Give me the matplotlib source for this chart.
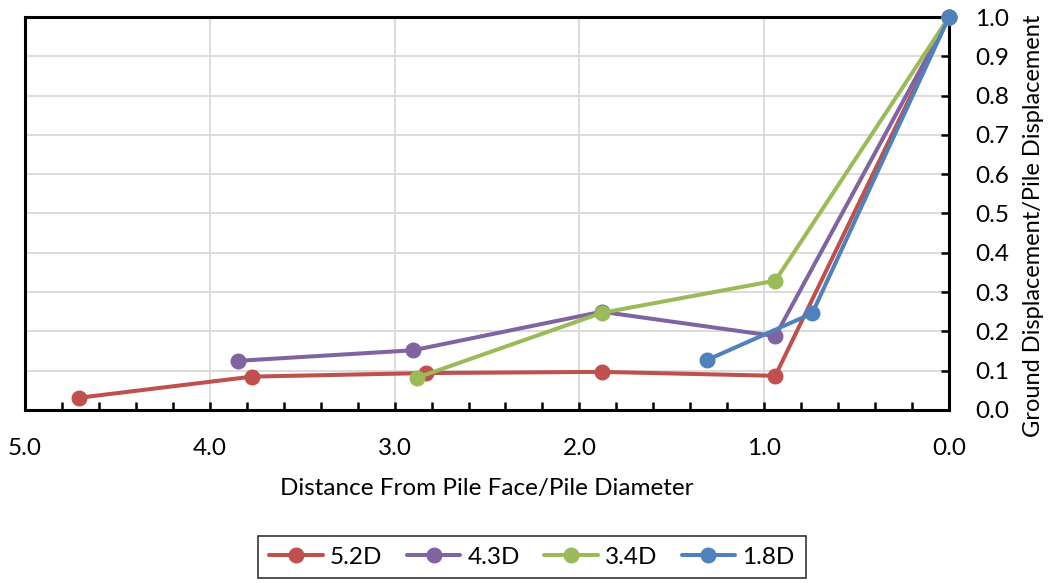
import matplotlib
matplotlib.use("Agg")
import matplotlib.pyplot as plt
from matplotlib.ticker import MultipleLocator

plt.rcParams['font.family'] = ['Lato', 'DejaVu Sans']

series_names = ["5.2D", "4.3D", "3.4D", "1.8D"]
colors = ["#C0504D", "#8064A2", "#9BBB59", "#4F81BD"]

x_52 = [4.71, 3.77, 2.83, 1.88, 0.94, 0.0]
y_52 = [0.031, 0.085, 0.094, 0.097, 0.087, 1.0]

x_43 = [3.85, 2.90, 1.88, 0.94, 0.0]
y_43 = [0.125, 0.152, 0.250, 0.188, 1.0]

x_34 = [2.88, 1.88, 0.94, 0.0]
y_34 = [0.082, 0.247, 0.329, 1.0]

x_18 = [1.31, 0.74, 0.0]
y_18 = [0.127, 0.246, 1.0]

xs = [x_52, x_43, x_34, x_18]
ys = [y_52, y_43, y_34, y_18]

FS = 17.5

fig = plt.figure(figsize=(10.5, 5.83), dpi=100)
ax = fig.add_axes([25/1050, 1-410/583, (949-25)/1050, (410-17)/583])

for x, y, c, n in zip(xs, ys, colors, series_names):
    ax.plot(x, y, color=c, lw=2.9, marker='o', markersize=10.5, label=n,
            solid_capstyle='round', clip_on=False, zorder=3)

ax.set_xlim(5.0, 0.0)
ax.set_ylim(0.0, 1.0)
ax.xaxis.set_major_locator(MultipleLocator(1.0))
ax.xaxis.set_minor_locator(MultipleLocator(0.2))
ax.yaxis.set_major_locator(MultipleLocator(0.1))
ax.xaxis.set_major_formatter(plt.FuncFormatter(lambda v, p: f"{v:.1f}"))
ax.yaxis.set_major_formatter(plt.FuncFormatter(lambda v, p: f"{v:.1f}"))

ax.yaxis.tick_right()
ax.yaxis.set_label_position('right')
ax.grid(True, which='major', color='#D9D9D9', lw=1.3, zorder=0)
ax.set_axisbelow(True)

for s in ax.spines.values():
    s.set_linewidth(2.2)
    s.set_color('black')

ax.tick_params(axis='x', which='both', direction='in', length=6, width=1.8,
               labelsize=FS, pad=20, top=False)
ax.tick_params(axis='y', which='major', direction='in', length=6, width=1.8,
               labelsize=FS, pad=19, left=False)

ax.set_xlabel("Distance From Pile Face/Pile Diameter", fontsize=FS, labelpad=14)
ylab = ax.set_ylabel("Ground Displacement/Pile Displacement", fontsize=17)
ylab.set_va('center')
ylab.set_ha('center')
ylab.set_rotation_mode('anchor')
ax.yaxis.set_label_coords((1033 - 25) / 924, (410 - 226) / 393)

leg = ax.legend(loc='center', bbox_to_anchor=(532/1050, 1-557/583),
                bbox_transform=fig.transFigure, ncol=4, frameon=True,
                fontsize=FS, handlelength=2.2, columnspacing=1.0,
                handletextpad=0.3, fancybox=False, borderpad=0.45)
leg.get_frame().set_edgecolor('black')
leg.get_frame().set_linewidth(1.2)

fig.savefig("out.png", dpi=100)
